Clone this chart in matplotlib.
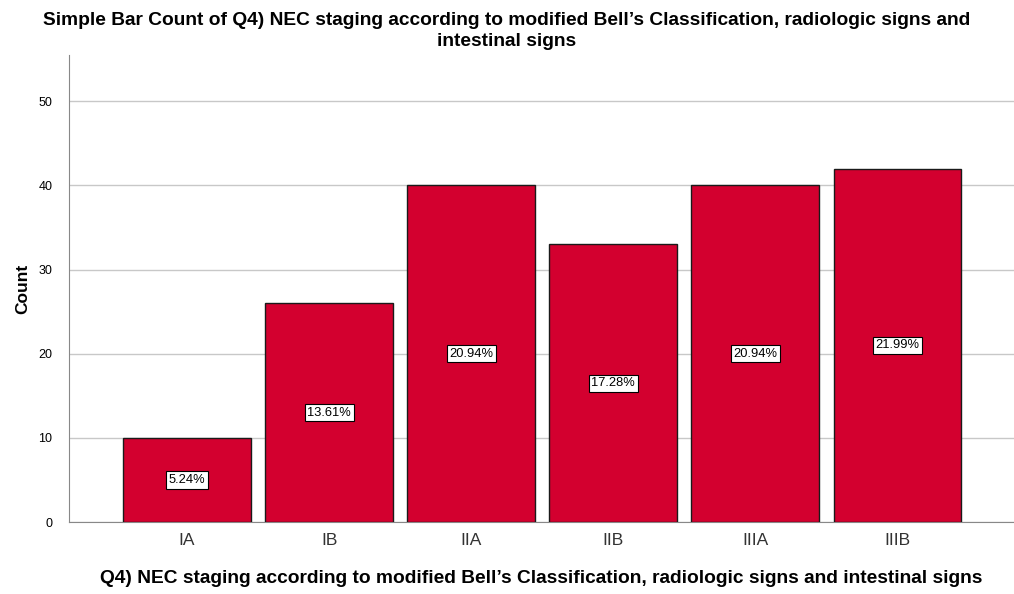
import matplotlib.pyplot as plt

plt.rcParams['font.family'] = ['Liberation Sans', 'DejaVu Sans']

stages = ['IA', 'IB', 'IIA', 'IIB', 'IIIA', 'IIIB']
counts = [10, 26, 40, 33, 40, 42]
pct_labels = ['5.24%', '13.61%', '20.94%', '17.28%', '20.94%', '21.99%']

fig = plt.figure(figsize=(10.14, 5.94), dpi=100)
ax = fig.add_axes([0.068, 0.1212, 0.932, 0.7862])

x = list(range(len(stages)))
ax.bar(x, counts, width=0.9, color='#D3002F', edgecolor='#1a1a1a', linewidth=1.0, zorder=3)

for xi, c, lab in zip(x, counts, pct_labels):
    ax.text(xi, c / 2, lab, ha='center', va='center', fontsize=9.3, zorder=4,
            bbox=dict(boxstyle='square,pad=0.2', facecolor='white', edgecolor='black', linewidth=0.8))

ax.set_xlim(-0.831, 5.82)
ax.set_ylim(0, 55.5)
ax.set_yticks([0, 10, 20, 30, 40, 50])
ax.set_xticks(x)
ax.set_xticklabels(stages, fontsize=12.5, color='#333333')
ax.tick_params(axis='y', labelsize=9, length=0, pad=12)
ax.tick_params(axis='x', length=0, pad=8)
ax.yaxis.grid(True, color='#c8c8c8', linewidth=1.0, zorder=0)

for side in ['top', 'right']:
    ax.spines[side].set_visible(False)
ax.spines['left'].set_color('#888888')
ax.spines['bottom'].set_color('#888888')

ax.set_ylabel('Count', fontsize=12.5, fontweight='bold', labelpad=6)
ax.set_xlabel("Q4) NEC staging according to modified Bell\u2019s Classification, radiologic signs and intestinal signs",
              fontsize=13.8, fontweight='bold', labelpad=16)
fig.text(0.5, 0.948, "Simple Bar Count of Q4) NEC staging according to modified Bell\u2019s Classification, radiologic signs and\nintestinal signs",
         ha='center', va='center', fontsize=13.8, fontweight='bold', linespacing=1.3)

fig.savefig('out.png', dpi=100)
